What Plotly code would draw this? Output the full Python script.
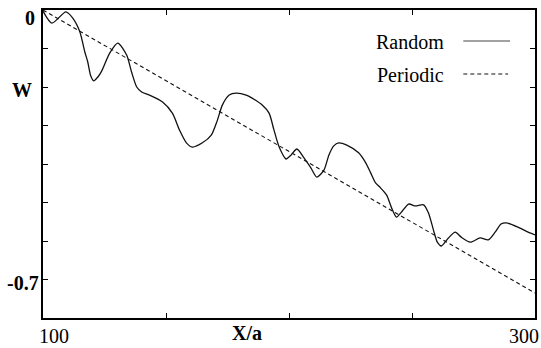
import plotly.graph_objects as go

# Random curve (X/a, W)
random_x = [100.0, 103.6, 109.3, 112.1, 115.0, 117.0, 118.2, 119.4, 120.6, 122.3, 123.9, 127.1, 130.4,
            134.0, 136.0, 138.1, 140.1, 143.3, 148.6, 152.6, 155.5, 158.3, 160.7, 164.8,
            168.4, 170.9, 172.9, 175.7, 178.5, 182.6, 185.0, 189.1, 191.9, 193.9, 196.0,
            198.8, 200.8, 203.2, 206.1, 208.9, 211.3, 214.2, 216.2, 218.2, 220.2, 223.5,
            228.3, 231.2, 233.2, 235.2, 237.2, 239.7, 241.7, 243.7, 245.7, 248.6, 251.4,
            254.7, 256.7, 258.7, 260.3, 261.9, 264.8, 267.6, 270.0, 273.7, 277.7, 281.0,
            283.8, 286.2, 288.3, 293.1, 297.2, 300.0]
random_w = [-0.003, -0.034, -0.005, -0.021, -0.057, -0.109, -0.135, -0.171, -0.184, -0.174, -0.158, -0.112, -0.086,
            -0.117, -0.161, -0.200, -0.213, -0.221, -0.239, -0.268, -0.312, -0.345, -0.356, -0.345,
            -0.325, -0.286, -0.247, -0.221, -0.216, -0.221, -0.229, -0.247, -0.268, -0.312, -0.356,
            -0.387, -0.377, -0.361, -0.384, -0.410, -0.434, -0.416, -0.377, -0.353, -0.345, -0.351,
            -0.371, -0.397, -0.423, -0.449, -0.462, -0.481, -0.514, -0.538, -0.525, -0.504, -0.509,
            -0.506, -0.527, -0.571, -0.603, -0.613, -0.592, -0.577, -0.590, -0.603, -0.592, -0.597,
            -0.577, -0.556, -0.553, -0.564, -0.577, -0.584]

# Periodic line
periodic_x = [100, 300]
periodic_w = [0.0, -0.735]

x_ticks = [100, 150, 200, 250, 300]
y_ticks = [0, -0.1, -0.2, -0.3, -0.4, -0.5, -0.6, -0.7, -0.8]

fig = go.Figure()
fig.add_trace(go.Scatter(x=random_x, y=random_w, mode="lines", name="Random",
                         line=dict(color="#111111", width=1.3, shape="spline", smoothing=0.7)))
fig.add_trace(go.Scatter(x=periodic_x, y=periodic_w, mode="lines", name="Periodic",
                         line=dict(color="#111111", width=1.1, dash="4px,3px")))

axis_common = dict(showline=True, linecolor="black", linewidth=1.5, mirror="ticks",
                   ticks="inside", ticklen=5, tickcolor="black", tickwidth=1,
                   showgrid=False, zeroline=False, showticklabels=False)
fig.update_xaxes(range=[100, 300], tickvals=x_ticks, **axis_common)
fig.update_yaxes(range=[-0.8, 0], tickvals=y_ticks, **axis_common)

serif = "Liberation Serif"
ann = []
def lab(text, x, y, bold=True, xanchor="center", size=20):
    t = f"<b>{text}</b>" if bold else text
    ann.append(dict(text=t, x=x, y=y, xref="paper", yref="paper", showarrow=False,
                    xanchor=xanchor, yanchor="middle",
                    font=dict(family=serif, size=size, color="black")))

# Axis labels (paper coords: plot area 43..537 x, 10..318 y)
lab("0", (30 - 43) / 494, 1 - (18 - 10) / 308)
lab("W", (22 - 43) / 494, 1 - (90 - 10) / 308)
lab("-0.7", (23 - 43) / 494, 1 - (283 - 10) / 308)
lab("100", (54 - 43) / 494, 1 - (336 - 10) / 308, bold=False)
lab("300", (526 - 43) / 494, 1 - (336 - 10) / 308, bold=False)
lab("X/a", (248 - 43) / 494, 1 - (333 - 10) / 308)

# Legend (gnuplot style: text then sample)
lab("Random", (448 - 43) / 494, 1 - (42 - 10) / 308, bold=False, xanchor="right")
lab("Periodic", (448 - 43) / 494, 1 - (75 - 10) / 308, bold=False, xanchor="right")
fig.update_layout(annotations=ann)
fig.add_shape(type="line", xref="paper", yref="paper",
              x0=(465 - 43) / 494, x1=(512 - 43) / 494,
              y0=1 - (41 - 10) / 308, y1=1 - (41 - 10) / 308,
              line=dict(color="#444444", width=1))
fig.add_shape(type="line", xref="paper", yref="paper",
              x0=(465 - 43) / 494, x1=(510 - 43) / 494,
              y0=1 - (74 - 10) / 308, y1=1 - (74 - 10) / 308,
              line=dict(color="#111111", width=1.1, dash="4px,3px"))

fig.update_layout(width=541, height=348, showlegend=False,
                  margin=dict(l=43, r=4, t=10, b=30),
                  plot_bgcolor="white", paper_bgcolor="white")

fig.write_html("out.html", config={"displayModeBar": False},
               post_script="document.body.style.margin='0';document.body.style.overflow='hidden';")
